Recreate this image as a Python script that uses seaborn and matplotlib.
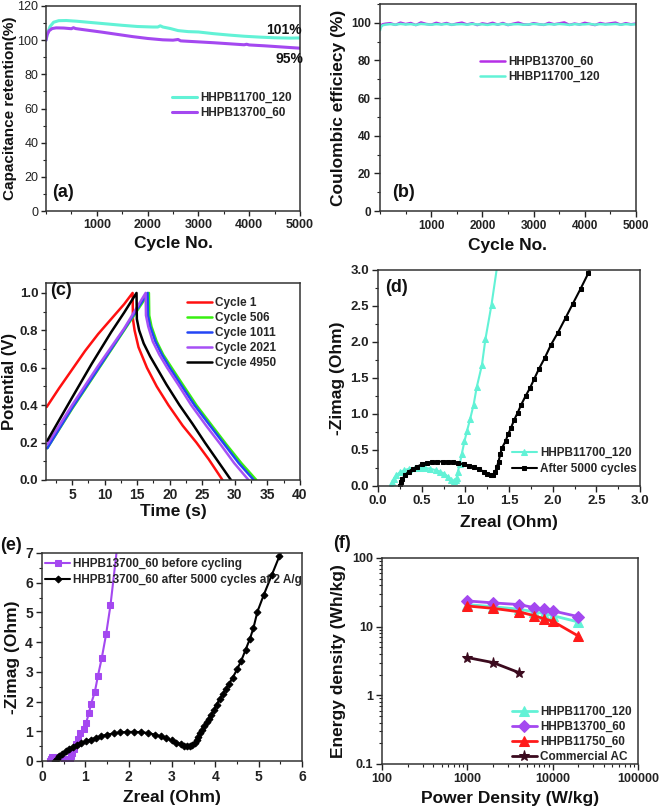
import matplotlib
matplotlib.use("Agg")
import matplotlib.pyplot as plt
import seaborn as sns
from matplotlib.ticker import MultipleLocator, FixedLocator, NullFormatter

# ---------------- data ----------------
# (a) capacitance retention
cyc_a_cyan = [0, 30, 80, 150, 250, 400, 600, 900, 1200, 1500, 1800, 2100, 2200, 2250, 2300,
              2450, 2600, 2800, 3000, 3300, 3600, 3900, 4200, 4500, 4800, 5000]
ret_cyan = [100, 104, 108, 110.5, 111.4, 111.5, 111.1, 110.3, 109.5, 108.7, 108.0, 107.7, 107.7, 108.4, 107.7,
            106.8, 105.6, 105.0, 104.8, 103.8, 103.0, 102.3, 101.8, 101.4, 101.2, 101.3]
cyc_a_purple = [0, 20, 60, 120, 200, 350, 500, 540, 580, 700, 900, 1100, 1400, 1700, 2000,
                2300, 2500, 2600, 2650, 2700, 3000, 3300, 3600, 3900, 3950, 4000, 4300, 4600, 5000]
ret_purple = [100, 103, 105.5, 106.8, 107.2, 107.1, 106.7, 107.3, 106.8, 106.3, 105.5, 104.7, 103.4, 102.1, 101.0,
              100.2, 100.0, 100.4, 99.6, 99.5, 99.0, 98.5, 97.9, 97.3, 97.6, 97.2, 96.7, 96.1, 95.3]

# (b) coulombic efficiency
cyc_b = [0, 20, 50, 100,
         200, 300, 400, 500, 600, 700, 800, 900, 1000, 1100,
         1200, 1300, 1400, 1500, 1600, 1700, 1800, 1900, 2000, 2100,
         2200, 2300, 2400, 2500, 2600, 2700, 2800, 2900, 3000, 3100,
         3200, 3300, 3400, 3500, 3600, 3700, 3800, 3900, 4000, 4100,
         4200, 4300, 4400, 4500, 4600, 4700, 4800, 4900, 5000]
ce_cyan = [96.0, 97.8, 98.7, 99.0,
           99.3, 99.0, 99.4, 99.1, 99.3, 98.9, 99.4, 99.2, 99.0, 99.3,
           99.1, 99.4, 99.0, 99.2, 99.3, 99.0, 99.4, 99.1, 99.2, 98.9,
           99.3, 99.1, 99.4, 99.0, 99.2, 99.3, 99.0, 99.1, 99.4, 99.2,
           99.0, 99.3, 99.1, 99.4, 99.2, 98.9, 99.3, 99.1, 99.2, 99.4,
           99.0, 99.3, 99.1, 99.2, 99.4, 99.0, 99.3, 99.1, 99.2]
ce_magenta = [97.0, 98.5, 99.2, 99.5,
              99.8, 98.9, 100.1, 99.3, 99.9, 98.8, 100.2, 99.4, 99.0, 100.0,
              99.2, 99.9, 98.9, 99.6, 100.1, 99.1, 99.8, 98.8, 99.7, 99.2,
              100.0, 99.0, 99.9, 98.8, 99.5, 100.1, 99.2, 99.0, 99.8, 99.3,
              98.9, 100.0, 99.2, 99.7, 100.2, 98.9, 99.6, 99.1, 100.0, 99.4,
              98.8, 99.9, 99.3, 99.7, 100.1, 99.0, 99.8, 99.2, 99.6]

# (c) galvanostatic charge-discharge
t_c1 = [1.1, 3.0, 5.0, 7.0, 9.0, 11.0, 13.0, 14.3, 14.35, 14.6, 15.2, 16.5, 18.0, 19.8, 22.0, 24.1, 26.0, 28.1]
v_c1 = [0.39, 0.49, 0.59, 0.69, 0.78, 0.86, 0.94, 1.00, 0.86, 0.80, 0.71, 0.60, 0.50, 0.40, 0.29, 0.20, 0.11, 0.00]
t_c506 = [1.2, 5.0, 9.0, 13.0, 16.8, 16.85, 17.2, 18.0, 19.0, 20.3, 22.0, 24.1, 26.5, 28.7, 31.0, 33.3]
v_c506 = [0.17, 0.38, 0.59, 0.80, 1.00, 0.88, 0.82, 0.74, 0.67, 0.60, 0.51, 0.40, 0.29, 0.19, 0.09, 0.00]
t_c1011 = [1.2, 5.0, 9.0, 13.0, 16.6, 16.65, 17.0, 17.8, 18.8, 20.0, 21.7, 23.8, 26.2, 28.4, 30.6, 32.9]
v_c1011 = [0.17, 0.385, 0.595, 0.805, 1.00, 0.88, 0.82, 0.74, 0.67, 0.60, 0.51, 0.40, 0.29, 0.19, 0.09, 0.00]
t_c2021 = [1.2, 5.0, 9.0, 13.0, 16.3, 16.35, 16.7, 17.4, 18.4, 19.6, 21.3, 23.3, 25.6, 27.8, 29.9, 32.1]
v_c2021 = [0.19, 0.40, 0.61, 0.81, 1.00, 0.88, 0.82, 0.74, 0.67, 0.60, 0.51, 0.40, 0.29, 0.19, 0.09, 0.00]
t_c4950 = [1.2, 5.0, 8.0, 11.0, 13.0, 14.9, 14.95, 15.3, 16.0, 17.0, 18.0, 19.5, 21.5, 23.5, 25.4, 27.4, 29.4]
v_c4950 = [0.21, 0.44, 0.62, 0.79, 0.895, 1.00, 0.86, 0.80, 0.73, 0.66, 0.60, 0.51, 0.40, 0.30, 0.20, 0.10, 0.00]
cycle_labels = ["Cycle 1", "Cycle 506", "Cycle 1011", "Cycle 2021", "Cycle 4950"]

# (d) Nyquist HHPB11700_120
d_cyan_re = [0.15, 0.16, 0.18, 0.21, 0.25, 0.30, 0.36, 0.42, 0.48, 0.54,
             0.60, 0.66, 0.71, 0.76, 0.80, 0.84, 0.87, 0.89, 0.90, 0.915,
             0.935, 0.96, 0.99, 1.02, 1.055, 1.095, 1.13, 1.19, 1.23, 1.30, 1.37]
d_cyan_im = [0.00, 0.05, 0.10, 0.15, 0.19, 0.22, 0.24, 0.25, 0.25, 0.25,
             0.24, 0.22, 0.20, 0.17, 0.13, 0.09, 0.07, 0.08, 0.11, 0.20,
             0.30, 0.45, 0.62, 0.77, 0.93, 1.13, 1.37, 1.68, 2.04, 2.52, 3.10]
d_black_re = [0.25, 0.26, 0.28, 0.31, 0.35, 0.40, 0.45, 0.50, 0.56, 0.62,
              0.68, 0.74, 0.80, 0.86, 0.92, 0.98, 1.04, 1.10, 1.16, 1.21,
              1.25, 1.29, 1.32, 1.34, 1.36, 1.38, 1.40, 1.42, 1.46, 1.49,
              1.52, 1.56, 1.60, 1.64, 1.69, 1.74, 1.79, 1.84, 1.91, 1.98,
              2.06, 2.15, 2.23, 2.32, 2.41, 2.45]
d_black_im = [0.00, 0.05, 0.10, 0.15, 0.20, 0.24, 0.27, 0.30, 0.32, 0.33,
              0.34, 0.34, 0.34, 0.33, 0.32, 0.30, 0.28, 0.26, 0.23, 0.20,
              0.17, 0.15, 0.15, 0.19, 0.26, 0.34, 0.44, 0.53, 0.62, 0.72,
              0.80, 0.92, 1.02, 1.13, 1.25, 1.36, 1.49, 1.62, 1.78, 1.96,
              2.13, 2.34, 2.53, 2.74, 2.96, 3.10]

# (e) Nyquist HHPB13700_60
e_pu_re = [0.18, 0.20, 0.24, 0.30, 0.37, 0.44, 0.51, 0.57, 0.61, 0.64,
           0.67, 0.70, 0.74, 0.78, 0.82, 0.88, 0.96, 1.02, 1.08, 1.13,
           1.22, 1.29, 1.38, 1.48, 1.58, 1.75]
e_pu_im = [0.00, 0.07, 0.12, 0.14, 0.14, 0.12, 0.08, 0.04, 0.03, 0.08,
           0.16, 0.26, 0.40, 0.56, 0.74, 0.93, 1.08, 1.29, 1.60, 1.91,
           2.33, 2.86, 3.47, 4.27, 5.24, 7.40]
e_bk_re = [0.30, 0.34, 0.40, 0.47, 0.55, 0.63, 0.72, 0.81, 0.91, 1.01,
           1.12, 1.24, 1.37, 1.51, 1.66, 1.81, 1.97, 2.13, 2.29, 2.45,
           2.60, 2.74, 2.87, 2.99, 3.10, 3.20, 3.28, 3.35, 3.41, 3.47,
           3.52, 3.57, 3.61, 3.65, 3.70, 3.75, 3.80, 3.85, 3.91, 3.97,
           4.03, 4.10, 4.17, 4.24, 4.32, 4.40, 4.50, 4.60, 4.70, 4.80,
           4.88, 4.97, 5.12, 5.30, 5.48, 5.60]
e_bk_im = [0.00, 0.07, 0.16, 0.25, 0.33, 0.41, 0.48, 0.55, 0.61, 0.66,
           0.72, 0.78, 0.84, 0.89, 0.93, 0.96, 0.98, 0.98, 0.97, 0.94,
           0.89, 0.83, 0.76, 0.69, 0.62, 0.56, 0.52, 0.50, 0.51, 0.55,
           0.62, 0.70, 0.80, 0.93, 1.06, 1.18, 1.30, 1.42, 1.56, 1.72,
           1.90, 2.08, 2.25, 2.42, 2.60, 2.80, 3.08, 3.38, 3.75, 4.12,
           4.48, 5.02, 5.60, 6.25, 6.90, 7.30]

# (f) Ragone plot
power = [1000, 2000, 4000, 6000, 8000, 10000, 20000]
e_11700_120 = [21.0, 19.5, 18.0, 16.5, 15.5, 14.5, 11.7]
e_13700_60 = [23.7, 22.2, 21.0, 19.0, 18.0, 17.0, 14.0]
e_11750_60 = [20.0, 18.5, 16.5, 14.5, 13.0, 12.0, 7.3]
power_ac = [1000, 2000, 4000]
e_ac = [3.55, 3.0, 2.15]

# ---------------- style ----------------
sns.set_theme(style="ticks")
plt.rcParams['font.family'] = ['Liberation Sans', 'DejaVu Sans']
plt.rcParams['axes.linewidth'] = 1.1
plt.rcParams['axes.edgecolor'] = '#333333'

CYAN = '#62F2D6'
PURPLE = '#A448F0'
MAGENTA = '#B52FE6'

fig = plt.figure(figsize=(6.61, 8.10), dpi=100)
W, H = 661.0, 810.0


def add_axes(l, r, t, b):
    return fig.add_axes([l / W, (H - b) / H, (r - l) / W, (b - t) / H])


def style(ax, size, xbold=True, ybold=True, ysize=None, tl=4, pad=2.5):
    ax.tick_params(which='major', direction='out', length=tl, width=1, colors='#222222', labelsize=size,
                   pad=pad)
    ax.tick_params(which='minor', direction='out', length=2.5, width=0.8, colors='#222222')
    plt.setp(ax.get_xticklabels(), fontweight='bold' if xbold else 'normal')
    plt.setp(ax.get_yticklabels(), fontweight='bold' if ybold else 'normal',
             fontsize=ysize if ysize else size)
    for s in ax.spines.values():
        s.set_visible(True)


def labels(ax, xl, yl, size=12.5, xpad=4, ypad=4, ysize=None):
    ax.set_xlabel(xl, fontsize=size, fontweight='bold', color='#111111', labelpad=xpad)
    ax.set_ylabel(yl, fontsize=ysize if ysize else size, fontweight='bold', color='#111111',
                  labelpad=ypad)


def legend(ax, fx, fy, size=8.5, hl=2.1, ls=0.25):
    ax.legend(frameon=False, loc='upper left', bbox_to_anchor=(fx, fy), borderpad=0,
              borderaxespad=0, handlelength=hl, handletextpad=0.3, labelspacing=ls,
              prop={'weight': 'bold', 'size': size})


def panel(ax, txt, fx, fy):
    ax.text(fx, fy, txt, transform=ax.transAxes, fontsize=13, fontweight='bold',
            ha='left', va='center', color='#111111')


# (a)
ax = add_axes(46, 300, 6, 211)
sns.lineplot(x=cyc_a_cyan, y=ret_cyan, ax=ax, sort=False, estimator=None, color=CYAN, lw=2.2,
             label='HHPB11700_120')
sns.lineplot(x=cyc_a_purple, y=ret_purple, ax=ax, sort=False, estimator=None, color=PURPLE, lw=2.2,
             label='HHPB13700_60')
ax.set_xlim(0, 5000)
ax.set_ylim(0, 120)
ax.xaxis.set_major_locator(FixedLocator([1000, 2000, 3000, 4000, 5000]))
ax.xaxis.set_minor_locator(MultipleLocator(500))
ax.yaxis.set_major_locator(MultipleLocator(20))
ax.yaxis.set_minor_locator(MultipleLocator(10))
style(ax, 9, xbold=True, ybold=False, ysize=9, tl=3.5, pad=2)
labels(ax, 'Cycle No.', 'Capacitance retention(%)', ysize=11)
ax.yaxis.set_label_coords(-0.114, 0.5)
legend(ax, 0.496, 0.58)
ax.text(4690, 106, '101%', fontsize=10, fontweight='bold', ha='center', va='center', color='#111111')
ax.text(4790, 89, '95%', fontsize=10, fontweight='bold', ha='center', va='center', color='#111111')
panel(ax, '(a)', 0.024, 0.088)

# (b)
ax = add_axes(380, 636, 4, 211)
sns.lineplot(x=cyc_b, y=ce_magenta, ax=ax, sort=False, estimator=None, color=MAGENTA, lw=1.8,
             label='HHPB13700_60')
sns.lineplot(x=cyc_b, y=ce_cyan, ax=ax, sort=False, estimator=None, color=CYAN, lw=1.8,
             label='HHBP11700_120')
ax.set_xlim(0, 5000)
ax.set_ylim(0, 110)
ax.xaxis.set_major_locator(FixedLocator([1000, 2000, 3000, 4000, 5000]))
ax.xaxis.set_minor_locator(MultipleLocator(500))
ax.yaxis.set_major_locator(MultipleLocator(20))
ax.yaxis.set_minor_locator(MultipleLocator(10))
style(ax, 8.5)
labels(ax, 'Cycle No.', 'Coulombic efficiecy (%)')
legend(ax, 0.39, 0.749)
panel(ax, '(b)', 0.047, 0.088)

# (c)
ax = add_axes(46, 300, 283, 480)
c_series = [(t_c1, v_c1, '#FF1010'), (t_c506, v_c506, '#38F010'), (t_c1011, v_c1011, '#2345F5'),
            (t_c2021, v_c2021, '#A650F5'), (t_c4950, v_c4950, '#000000')]
for (tt, vv, col), lab in zip(c_series, cycle_labels):
    sns.lineplot(x=tt, y=vv, ax=ax, sort=False, estimator=None, color=col, lw=1.8, label=lab)
ax.set_xlim(1, 40)
ax.set_ylim(0, 1.053)
ax.xaxis.set_major_locator(FixedLocator([5, 10, 15, 20, 25, 30, 35, 40]))
ax.xaxis.set_minor_locator(MultipleLocator(2.5))
ax.yaxis.set_major_locator(MultipleLocator(0.2))
ax.yaxis.set_minor_locator(MultipleLocator(0.1))
ax.yaxis.set_major_formatter(matplotlib.ticker.FormatStrFormatter('%.1f'))
style(ax, 10, ysize=9.5, tl=3.5, pad=2)
labels(ax, 'Time (s)', 'Potential (V)', xpad=2, ysize=12)
ax.yaxis.set_label_coords(-0.115, 0.5)
legend(ax, 0.555, 0.929)
panel(ax, '(c)', 0.016, 0.964)

# (d)
ax = add_axes(378, 640, 270, 486)
sns.lineplot(x=d_cyan_re, y=d_cyan_im, ax=ax, sort=False, estimator=None, color=CYAN, lw=1.5,
             marker='^', markersize=4.5, markeredgecolor=CYAN, label='HHPB11700_120')
sns.lineplot(x=d_black_re, y=d_black_im, ax=ax, sort=False, estimator=None, color='#000000', lw=1.5,
             marker='s', markersize=3.5, markeredgecolor='#000000', label='After 5000 cycles')
ax.set_xlim(0, 3)
ax.set_ylim(0, 3)
ax.xaxis.set_major_locator(MultipleLocator(0.5))
ax.yaxis.set_major_locator(MultipleLocator(0.5))
ax.xaxis.set_minor_locator(MultipleLocator(0.25))
ax.yaxis.set_minor_locator(MultipleLocator(0.25))
ax.xaxis.set_major_formatter(matplotlib.ticker.FormatStrFormatter('%.1f'))
ax.yaxis.set_major_formatter(matplotlib.ticker.FormatStrFormatter('%.1f'))
style(ax, 9.5)
labels(ax, 'Zreal (Ohm)', '-Zimag (Ohm)', xpad=6)
legend(ax, 0.511, 0.18, ls=0.35)
panel(ax, '(d)', 0.027, 0.917)

# (e)
ax = add_axes(42, 302, 553, 761)
sns.lineplot(x=e_pu_re, y=e_pu_im, ax=ax, sort=False, estimator=None, color=PURPLE, lw=1.5,
             marker='s', markersize=4, markeredgecolor=PURPLE, label='HHPB13700_60 before cycling')
sns.lineplot(x=e_bk_re, y=e_bk_im, ax=ax, sort=False, estimator=None, color='#000000', lw=1.5,
             marker='D', markersize=3.5, markeredgecolor='#000000',
             label='HHPB13700_60 after 5000 cycles at 2 A/g')
ax.set_xlim(0, 6)
ax.set_ylim(0, 7)
ax.xaxis.set_major_locator(MultipleLocator(1))
ax.yaxis.set_major_locator(MultipleLocator(1))
ax.xaxis.set_minor_locator(MultipleLocator(0.5))
ax.yaxis.set_minor_locator(MultipleLocator(0.5))
style(ax, 10)
labels(ax, 'Zreal (Ohm)', '-Zimag (Ohm)')
legend(ax, 0.012, 0.976, ls=0.35)
fig.text(0.0, 1 - 545 / H, '(e)', fontsize=13, fontweight='bold', ha='left', va='center', color='#111111')

# (f)
ax = add_axes(382, 638, 558, 764)
sns.lineplot(x=power, y=e_11700_120, ax=ax, sort=False, estimator=None, color=CYAN, lw=2,
             marker='^', markersize=7, markeredgecolor=CYAN, label='HHPB11700_120')
sns.lineplot(x=power, y=e_13700_60, ax=ax, sort=False, estimator=None, color=PURPLE, lw=2,
             marker='D', markersize=6, markeredgecolor=PURPLE, label='HHPB13700_60')
sns.lineplot(x=power, y=e_11750_60, ax=ax, sort=False, estimator=None, color='#FF1A1A', lw=2,
             marker='^', markersize=7, markeredgecolor='#FF1A1A', label='HHPB11750_60')
sns.lineplot(x=power_ac, y=e_ac, ax=ax, sort=False, estimator=None, color='#3B0A1E', lw=2,
             marker='*', markersize=8, markeredgecolor='#3B0A1E', label='Commercial AC')
ax.set_xscale('log')
ax.set_yscale('log')
ax.set_xlim(100, 100000)
ax.set_ylim(0.1, 100)
ax.xaxis.set_major_locator(FixedLocator([100, 1000, 10000, 100000]))
ax.yaxis.set_major_locator(FixedLocator([0.1, 1, 10, 100]))
ax.xaxis.set_minor_formatter(NullFormatter())
ax.yaxis.set_minor_formatter(NullFormatter())
ax.set_xticklabels(['100', '1000', '10000', '100000'])
ax.set_yticklabels(['0.1', '1', '10', '100'])
style(ax, 9)
labels(ax, 'Power Density (W/kg)', 'Energy density (Wh/kg)')
legend(ax, 0.508, 0.282)
fig.text(333 / W, 1 - 544 / H, '(f)', fontsize=13, fontweight='bold', ha='left', va='center', color='#111111')

fig.savefig('out.png', dpi=100)
